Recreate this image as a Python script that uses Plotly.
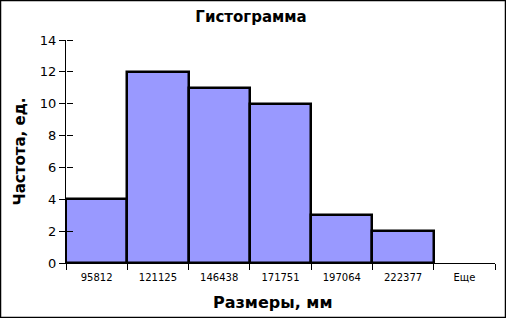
import plotly.graph_objects as go

categories = ["95812", "121125", "146438", "171751", "197064", "222377", "Еще"]
frequency = [4, 12, 11, 10, 3, 2, 0]

fig = go.Figure()
fig.add_trace(go.Scatter(x=categories, y=frequency, yaxis="y2", mode="markers",
                         marker=dict(opacity=0), showlegend=False, hoverinfo="skip"))
fig.add_trace(go.Bar(
    x=categories, y=frequency,
    marker=dict(color="#9999FF",
                line=dict(color="black", width=[2.5 if v > 0 else 0 for v in frequency])),
    width=1.0,
))

L, R, T, B = 66, 11, 40, 55
PW, PH = 506 - L - R, 318 - T - B

fig.update_layout(
    width=506, height=318,
    margin=dict(l=L, r=R, t=T, b=B),
    paper_bgcolor="white", plot_bgcolor="white",
    font=dict(family="DejaVu Sans", color="black"),
    showlegend=False,
    bargap=0,
    title=dict(text="<b>Гистограмма</b>", xref="paper", x=(251 - L) / PW, xanchor="center",
               yref="container", y=1 - 17 / 318, yanchor="middle",
               font=dict(size=15, family="DejaVu Sans")),
    xaxis=dict(
        type="category", tickson="boundaries", ticks="outside", ticklen=6, tickcolor="black",
        showline=True, linecolor="black", linewidth=1, showgrid=False,
        tickfont=dict(size=10), range=[-0.5, 6.5], ticklabelstandoff=5,
    ),
    yaxis=dict(
        range=[0, 14], dtick=2, ticks="outside", ticklen=6, tickcolor="black",
        showline=True, linecolor="black", linewidth=1, showgrid=False, zeroline=False,
        tickfont=dict(size=13),
        title=dict(text="<b>Частота, ед.</b>", font=dict(size=15), standoff=10),
    ),
    yaxis2=dict(
        overlaying="y", anchor="free", position=0, side="right", range=[0, 14], dtick=2,
        ticks="outside", ticklen=6, tickcolor="black", showticklabels=False,
        showgrid=False, zeroline=False, showline=False,
    ),
    annotations=[dict(text="<b>Размеры, мм</b>", xref="paper", yref="paper",
                      x=(272 - L) / PW, y=-(302 - (T + PH)) / PH, xanchor="center", yanchor="middle",
                      showarrow=False, font=dict(size=16))],
    shapes=[dict(type="rect", xref="paper", yref="paper",
                 x0=-(L - 0.5) / PW, x1=1 + (R - 0.5) / PW, y0=-(B - 0.5) / PH, y1=1 + (T - 0.5) / PH,
                 line=dict(color="black", width=1.5), fillcolor="rgba(0,0,0,0)", layer="above")],
)

fig.write_html("out.html")
